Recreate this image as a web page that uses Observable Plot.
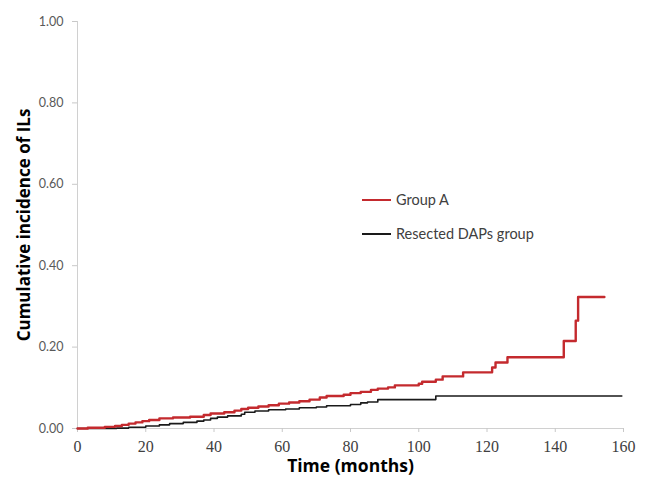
<!DOCTYPE html>
<html><head><meta charset="utf-8">
<script src="https://cdn.jsdelivr.net/npm/d3@7"></script>
<script src="https://cdn.jsdelivr.net/npm/@observablehq/plot@0.6"></script>
<style>
body{margin:0;background:#fff;}
#wrap{position:relative;width:647px;height:483px;background:#fff;}
.leg{position:absolute;left:362px;font-family:Lato,"Open Sans",sans-serif;font-size:14.5px;color:#404040;display:flex;align-items:center;white-space:nowrap;}
.leg span.sw{display:inline-block;width:29px;margin-right:5px;}
</style></head><body><div id="wrap"></div>
<script>
// Group A (red) step curve
const groupATime = [0,3,8,11,13,15,17,19,21,24,28,33,37,39,43,46,48,50,53,56,59,62,65,68,71,73,78,80,83,86,88,91,93,100,101,105,107,113,121.5,122.5,126,142.5,146,146.7,154.4];
const groupAValue = [0,0.002,0.004,0.006,0.009,0.012,0.015,0.018,0.021,0.025,0.027,0.029,0.033,0.037,0.040,0.044,0.048,0.051,0.054,0.057,0.061,0.064,0.067,0.071,0.076,0.080,0.083,0.087,0.090,0.095,0.098,0.101,0.106,0.110,0.115,0.120,0.128,0.138,0.150,0.162,0.175,0.215,0.265,0.323,0.323];
// Resected DAPs group (black) step curve
const dapsTime = [0,11.5,15,20,24,27,31,35,37,39,41,44,48,49,52,56,61,65,70,73,80,83,85,88,105,159.5];
const dapsValue = [0,0.001,0.003,0.006,0.009,0.012,0.015,0.018,0.021,0.025,0.028,0.031,0.035,0.040,0.043,0.046,0.048,0.051,0.053,0.056,0.059,0.063,0.065,0.071,0.080,0.080];
const xTicks = [0,20,40,60,80,100,120,140,160];
const xTickLabels = ["0","20","40","60","80","100","120","140","160"];
const yTicks = [0,0.2,0.4,0.6,0.8,1.0];
const yTickLabels = ["0.00","0.20","0.40","0.60","0.80","1.00"];
const seriesNames = ["Group A","Resected DAPs group"];
const seriesColors = ["#c42a2e","#1a1a1a"];
const yTitle = "Cumulative incidence of ILs";
const xTitle = "Time (months)";

const redData = groupATime.map((t,i)=>({t, v:groupAValue[i]}));
const blackData = dapsTime.map((t,i)=>({t, v:dapsValue[i]}));

const plot = Plot.plot({
  width:647, height:483,
  marginLeft:77, marginRight:24, marginTop:21, marginBottom:55,
  x:{domain:[0,160]},
  y:{domain:[0,1]},
  style:{background:"#fff"},
  marks:[
    Plot.ruleX([0],{stroke:"#d0d0d0"}),
    Plot.ruleY([0],{stroke:"#d0d0d0"}),
    Plot.axisY({ticks:yTicks, tickFormat:()=>"", tickSize:5, stroke:"#c8c8c8", label:null}),
    Plot.axisX({ticks:xTicks, tickFormat:()=>"", tickSize:4, stroke:"#c8c8c8", label:null}),
    Plot.text(yTicks,{y:d=>d, text:(d,i)=>yTickLabels[i], frameAnchor:"left", dx:-14, textAnchor:"end", fontSize:12.5, fontFamily:"Lato", fill:"#595959"}),
    Plot.text(xTicks,{x:d=>d, text:(d,i)=>xTickLabels[i], frameAnchor:"bottom", dy:18, lineAnchor:"middle", textAnchor:"middle", fontSize:16, fontFamily:"Liberation Serif, Times New Roman, serif", fill:"#404040"}),
    Plot.line(blackData,{x:"t", y:"v", curve:"step-after", stroke:seriesColors[1], strokeWidth:1.6}),
    Plot.line(redData,{x:"t", y:"v", curve:"step-after", stroke:seriesColors[0], strokeWidth:2.4}),
    Plot.text([yTitle],{frameAnchor:"left", dx:-53, rotate:-90, textAnchor:"middle", lineAnchor:"middle", fontSize:17, fontWeight:"bold", fontFamily:"Open Sans", fill:"#000"}),
    Plot.text([xTitle],{frameAnchor:"bottom", dy:38, textAnchor:"middle", lineAnchor:"middle", fontSize:17.5, fontWeight:"bold", fontFamily:"Open Sans", fill:"#000"})
  ]
});
const wrap = document.getElementById("wrap");
wrap.appendChild(plot);
const legTops = [191, 225];
seriesNames.forEach((name,i)=>{
  const d = document.createElement("div");
  d.className = "leg";
  d.style.top = legTops[i] + "px";
  d.innerHTML = `<span class="sw" style="border-top:2.5px solid ${seriesColors[i]}"></span><span>${name}</span>`;
  wrap.appendChild(d);
});
</script>
</body></html>
